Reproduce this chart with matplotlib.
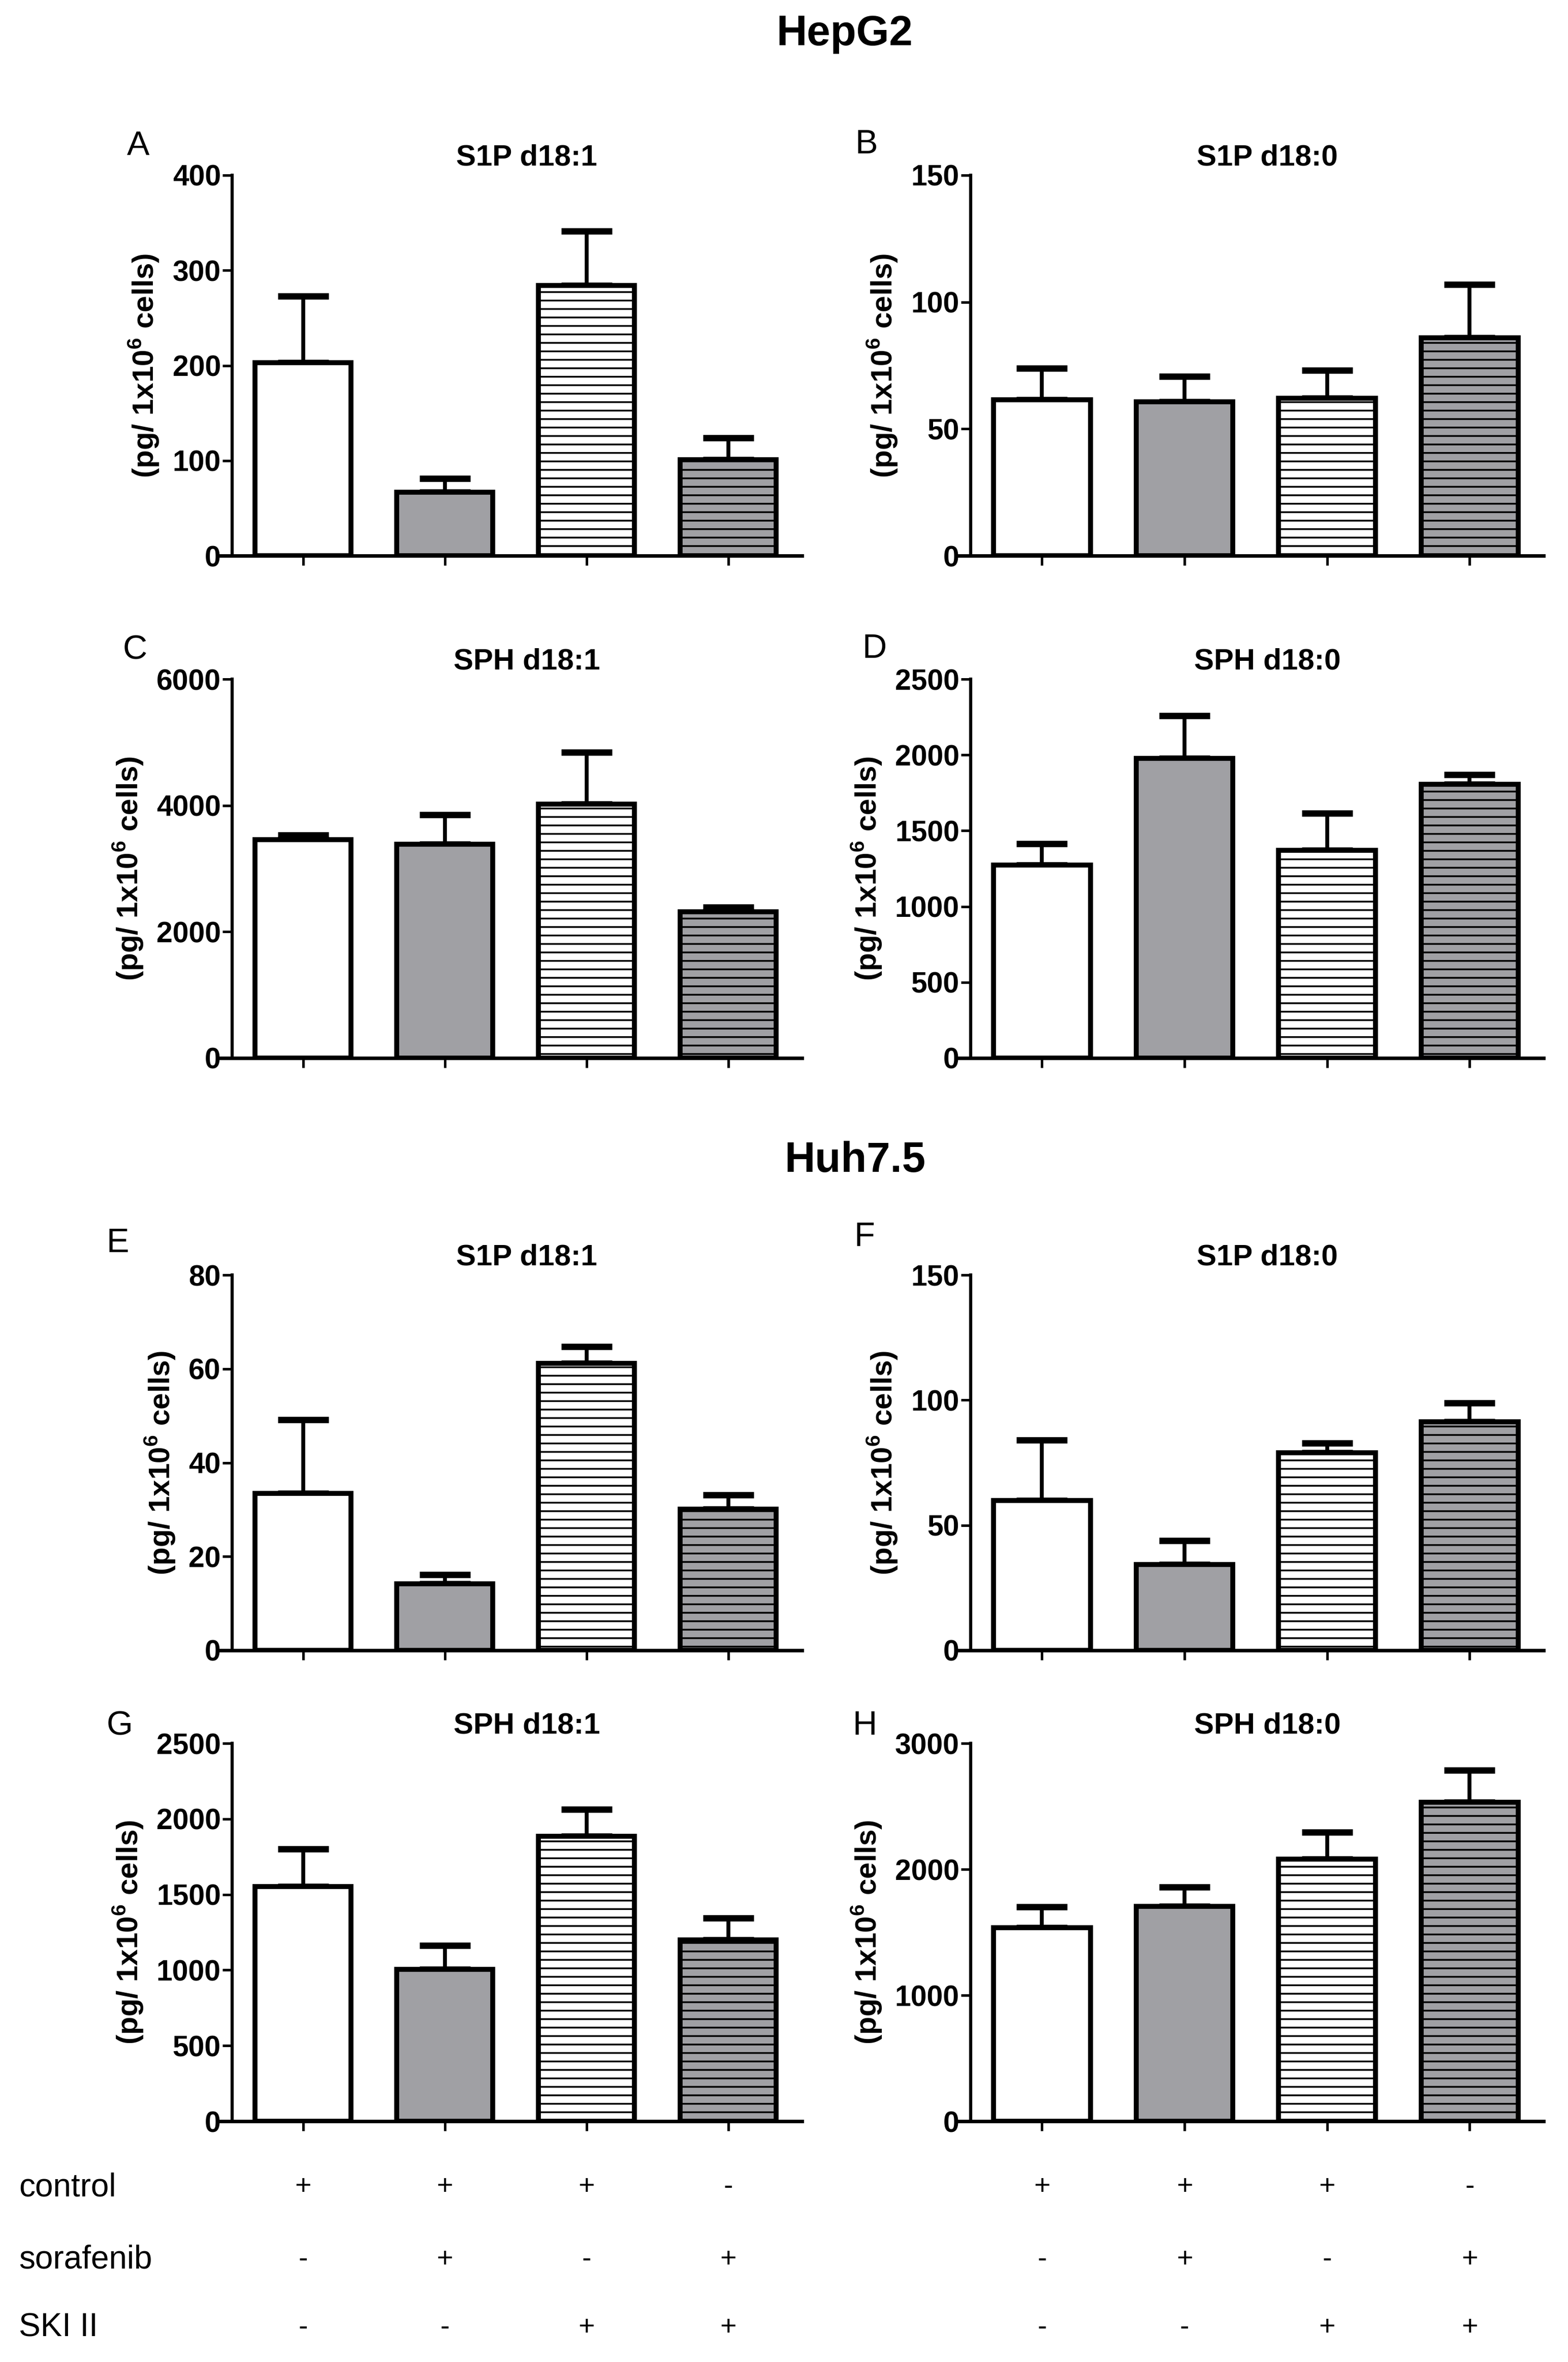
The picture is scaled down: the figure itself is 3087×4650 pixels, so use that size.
import matplotlib
matplotlib.use('Agg')
import matplotlib.pyplot as plt
import matplotlib.transforms as mtransforms
import numpy as np

plt.rcParams['font.family'] = ['Liberation Sans', 'DejaVu Sans']
plt.rcParams['mathtext.fontset'] = 'custom'
plt.rcParams['mathtext.rm'] = 'Liberation Sans:bold'
plt.rcParams['mathtext.bf'] = 'Liberation Sans:bold'
plt.rcParams['hatch.linewidth'] = 2.5

W, H = 3087, 4650

# ---------------- data ----------------
groups = ['control', 'sorafenib', 'SKI II', 'sorafenib + SKI II']

# HepG2
hep_s1p_181 = [203, 67, 284, 101]
hep_s1p_181_err = [70, 14, 57, 23]
hep_s1p_180 = [61.5, 60.6, 62.1, 85.9]
hep_s1p_180_err = [12.4, 10.0, 11.0, 21.0]
hep_sph_181 = [3460, 3390, 4020, 2320]
hep_sph_181_err = [70, 460, 820, 65]
hep_sph_180 = [1274, 1976, 1372, 1805]
hep_sph_180_err = [139, 283, 244, 64]

# Huh7.5
huh_s1p_181 = [33.4, 14.2, 61.2, 30.1]
huh_s1p_181_err = [15.7, 1.9, 3.5, 3.0]
huh_s1p_180 = [59.8, 34.4, 78.9, 91.4]
huh_s1p_180_err = [24.3, 9.5, 3.9, 7.4]
huh_sph_181 = [1554, 1004, 1884, 1198]
huh_sph_181_err = [248, 157, 179, 146]
huh_sph_180 = [1535, 1707, 2081, 2531]
huh_sph_180_err = [167, 151, 212, 256]

yticks_A = [0, 100, 200, 300, 400]
yticks_B = [0, 50, 100, 150]
yticks_C = [0, 2000, 4000, 6000]
yticks_D = [0, 500, 1000, 1500, 2000, 2500]
yticks_E = [0, 20, 40, 60, 80]
yticks_F = [0, 50, 100, 150]
yticks_G = [0, 500, 1000, 1500, 2000, 2500]
yticks_H = [0, 1000, 2000, 3000]

row_control = ['+', '+', '+', '-']
row_sorafenib = ['-', '+', '-', '+']
row_ski = ['-', '-', '+', '+']
treat_labels = ['control', 'sorafenib', 'SKI II']

panels = [
    ('A', 'S1P d18:1', hep_s1p_181, hep_s1p_181_err, yticks_A, 0, 0),
    ('B', 'S1P d18:0', hep_s1p_180, hep_s1p_180_err, yticks_B, 0, 1),
    ('C', 'SPH d18:1', hep_sph_181, hep_sph_181_err, yticks_C, 1, 0),
    ('D', 'SPH d18:0', hep_sph_180, hep_sph_180_err, yticks_D, 1, 1),
    ('E', 'S1P d18:1', huh_s1p_181, huh_s1p_181_err, yticks_E, 2, 0),
    ('F', 'S1P d18:0', huh_s1p_180, huh_s1p_180_err, yticks_F, 2, 1),
    ('G', 'SPH d18:1', huh_sph_181, huh_sph_181_err, yticks_G, 3, 0),
    ('H', 'SPH d18:0', huh_sph_180, huh_sph_180_err, yticks_H, 3, 1),
]

# ---------------- styling / layout ----------------
fills = ['white', '#a0a0a4', 'white', '#a0a0a4']
hatches = [None, None, '-', '-']

row_top = [345, 1337, 2510, 3432]
row_zero = [1094, 2083, 3249, 4176]
col_spine = [457, 1911]
col_step = [279, 280.7]
XMIN, XMAX = -0.58, 3.52

letter_pos = {'A': (272, 288), 'B': (1706, 285), 'C': (266, 1281), 'D': (1722, 1278),
              'E': (232, 2448), 'F': (1702, 2436), 'G': (236, 3398), 'H': (1703, 3398)}

fig = plt.figure(figsize=(W / 100, H / 100), dpi=100)

axes = {}
for letter, title, vals, errs, ticks, r, c in panels:
    left_px = col_spine[c] + (XMIN + 0.5) * col_step[c]
    width_px = (XMAX - XMIN) * col_step[c]
    ax = fig.add_axes([left_px / W, 1 - row_zero[r] / H,
                       width_px / W, (row_zero[r] - row_top[r]) / H])
    axes[letter] = ax
    x = np.arange(len(vals))
    ax.errorbar(x, vals, yerr=[np.zeros(len(errs)), errs], fmt='none',
                ecolor='black', elinewidth=5.5, capsize=36, capthick=9, zorder=2)
    bars = ax.bar(x, vals, width=0.68, color=fills, edgecolor='black',
                  linewidth=7, zorder=3)
    for b, h in zip(bars, hatches):
        if h:
            b.set_hatch(h)
    ax.set_xlim(XMIN, XMAX)
    ax.set_ylim(0, ticks[-1])
    for s in ['top', 'right']:
        ax.spines[s].set_visible(False)
    ax.spines['left'].set_position(('data', -0.5))
    ax.spines['left'].set_linewidth(4.5)
    ax.spines['bottom'].set_linewidth(5)
    ax.set_yticks(ticks)
    ax.set_yticklabels([str(t) for t in ticks], fontsize=41, fontweight='bold')
    ax.set_xticks(x)
    ax.set_xticklabels([])
    ax.tick_params(axis='both', direction='out', length=14, width=3.6)
    ax.tick_params(axis='y', pad=2)
    ax.set_ylabel(r'(pg/ 1x10$^{\mathbf{6}}$ cells)', fontsize=42,
                  fontweight='bold', labelpad=16)
    tr = mtransforms.blended_transform_factory(ax.transData, ax.transAxes)
    ax.annotate(title, xy=(1.58, 1.0), xycoords=tr, xytext=(0, 25),
                textcoords='offset points', ha='center', va='center',
                fontsize=42, fontweight='bold')
    lx, ly = letter_pos[letter]
    fig.text(lx / W, 1 - ly / H, letter, fontsize=48, ha='center', va='center')

# group titles
fig.text(1663 / W, 1 - 67 / H, 'HepG2', fontsize=60, fontweight='bold',
         ha='center', va='center')
fig.text(1683 / W, 1 - 2285 / H, 'Huh7.5', fontsize=60, fontweight='bold',
         ha='center', va='center')

# treatment table
rows = [row_control, row_sorafenib, row_ski]
row_y = [4306, 4449, 4583]
for lab, yy in zip(treat_labels, row_y):
    fig.text(37 / W, 1 - yy / H, lab, fontsize=46, ha='left', va='center')
for key in ['G', 'H']:
    ax = axes[key]
    tr = mtransforms.blended_transform_factory(ax.transData, fig.transFigure)
    for signs, yy in zip(rows, row_y):
        for i, s in enumerate(signs):
            ax.text(i, 1 - yy / H, s, transform=tr, fontsize=40,
                    ha='center', va='center', clip_on=False)

fig.savefig('out.png', dpi=100)
